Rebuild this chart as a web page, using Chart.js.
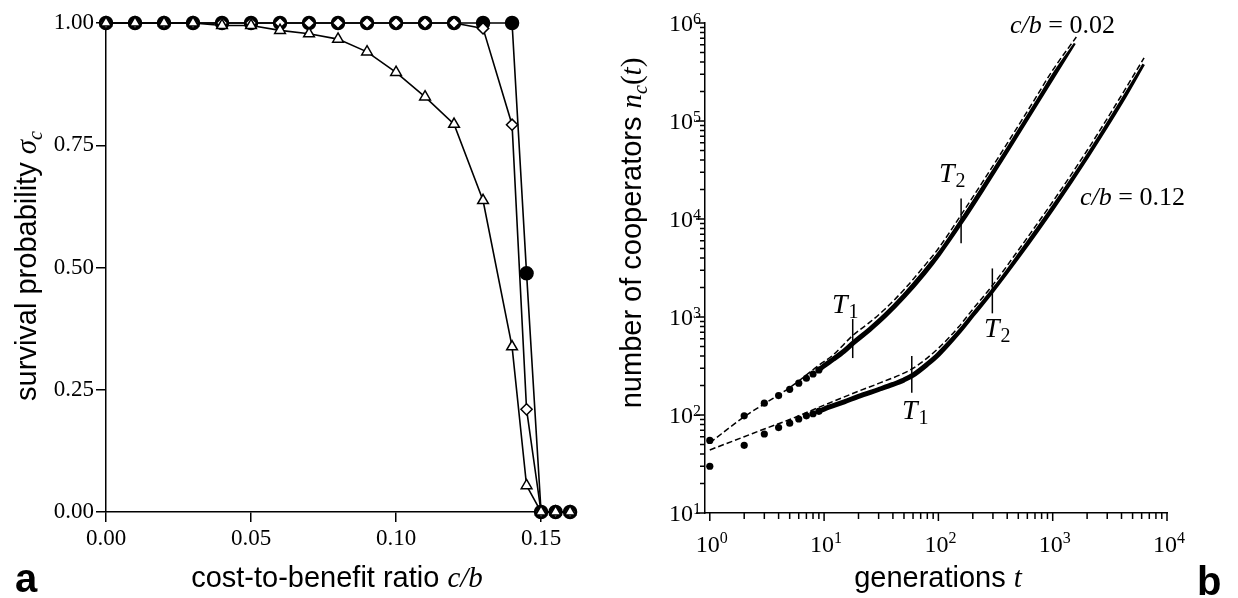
<!DOCTYPE html>
<html><head><meta charset="utf-8">
<script src="https://cdn.jsdelivr.net/npm/chart.js@4.4.1/dist/chart.umd.min.js"></script>
<style>
html,body{margin:0;padding:0;background:#fff;}
#wrap{position:relative;width:1238px;height:598px;overflow:hidden;background:#fff;}
#cA{position:absolute;left:0;top:0;}
#cB{position:absolute;left:600px;top:0;}
</style></head><body>
<div id="wrap">
<canvas id="cA" width="600" height="598"></canvas>
<canvas id="cB" width="638" height="598"></canvas>
</div>
<script>
// ===== Panel a data =====
const cbRatio = [0.00,0.01,0.02,0.03,0.04,0.05,0.06,0.07,0.08,0.09,0.10,0.11,0.12,0.13,0.14,0.145,0.15,0.155,0.16];
const survivalCircles   = [1,1,1,1,1,1,1,1,1,1,1,1,1,1,1,0.488,0,0,0];
const survivalDiamonds  = [1,1,1,1,1,1,1,1,1,1,1,1,1,0.989,0.792,0.21,0,0,0];
const survivalTriangles = [1,1,1,1,0.995,0.995,0.985,0.978,0.967,0.941,0.899,0.849,0.793,0.637,0.338,0.054,0,0,0];
const xTicksA = [0,0.05,0.10,0.15];
const yTicksA = [0,0.25,0.5,0.75,1];

// ===== Panel b data =====
const dotGenerations = [1,2,3,4,5,6,7,8,9];
const dots002 = [55,98,132,158,183,211,237,262,288];
const dots012 = [30,49,64,74.5,82.5,91,98,103,109];
const bandGen002 = [9,10,12,15,18,25,34,50,75,100,158,250,400,700,1000,1524];
const band002 = [288,318,370,450,545,745,1029,1634,2825,4350,9380,21400,51100,145500,284600,628000];
const bandGen012 = [9,10,15,20,30,40,50,60,80,100,150,200,297,500,1000,2000,4000,6130];
const band012 = [109,115,136,155,182,205,228,255,330,415,700,1060,1880,4210,13100,44100,160700,383000];
const fitGen002 = [1,2,3,5,9,12,18,25,34,50,75,100,158,250,400,700,1000,1610];
const fit002 = [52,96,130,190,322,410,655,880,1200,1900,3300,5000,11000,25000,59000,168000,330000,720000];
const fitGen012 = [1,2,3,5,10,20,30,60,100,150,200,297,500,1000,2000,4000,6300];
const fit012 = [44,60,72,90,126,175,210,300,480,790,1200,2100,4800,15000,50000,183000,440000];
const markGen  = [17.8,158,58.5,296.5];
const markLow  = [381,5640,169,1090];
const markHigh = [953,16200,401,3130];
const xDecadesB = [0,1,2,3,4];
const yDecadesB = [1,2,3,4,5,6];
const minorMultipliers = [2,3,4,5,6,7,8,9];

const SANS = '"Liberation Sans", Arial, sans-serif';
const SERIF = '"Liberation Serif", "Times New Roman", serif';

function pts(xs, ys){ return xs.map((x,i)=>({x:x, y:ys[i]})); }

function drawRich(ctx, x, y, parts, align, angle){
  ctx.save();
  ctx.translate(x, y);
  if (angle) ctx.rotate(angle);
  ctx.fillStyle = '#000';
  ctx.textBaseline = 'alphabetic';
  ctx.textAlign = 'left';
  let total = 0;
  parts.forEach(p=>{ ctx.font = p.f; p.w = ctx.measureText(p.t).width; total += p.w + (p.dx||0); });
  let cx = align === 'center' ? -total/2 : (align === 'right' ? -total : 0);
  parts.forEach(p=>{ ctx.font = p.f; cx += (p.dx||0); ctx.fillText(p.t, cx, p.dy||0); cx += p.w; });
  ctx.restore();
}

// ===== Panel a =====
const panelAText = {
  id:'panelAText',
  afterDraw(chart){
    const ctx = chart.ctx;
    drawRich(ctx, 36, 266, [
      {t:'survival probability ', f:'29px '+SANS},
      {t:'σ', f:'italic 29px '+SERIF},
      {t:'c', f:'italic 20px '+SERIF, dy:6}
    ], 'center', -Math.PI/2);
    drawRich(ctx, 337, 587, [
      {t:'cost-to-benefit ratio ', f:'29px '+SANS},
      {t:'c/b', f:'italic 29px '+SERIF}
    ], 'center');
    drawRich(ctx, 15, 592, [{t:'a', f:'bold 40px '+SANS}], 'left');
  }
};

const lineStyle = {borderColor:'#000', borderWidth:1.6, pointBorderColor:'#000', pointBorderWidth:1.5, clip:false, tension:0};

new Chart(document.getElementById('cA'), {
  type:'line',
  data:{datasets:[
    Object.assign({label:'triangles', data:pts(cbRatio, survivalTriangles), pointStyle:'triangle', pointRadius:6.2, pointBackgroundColor:'#fff', order:1}, lineStyle),
    Object.assign({label:'diamonds', data:pts(cbRatio, survivalDiamonds), pointStyle:'rectRot', pointRadius:5.6, pointBackgroundColor:'#fff', order:2}, lineStyle),
    Object.assign({label:'circles', data:pts(cbRatio, survivalCircles), pointStyle:'circle', pointRadius:6.5, pointBackgroundColor:'#000', order:3}, lineStyle)
  ]},
  options:{
    responsive:false, animation:false, devicePixelRatio:1,
    layout:{padding:{top:23, right:25, left:0, bottom:0}},
    plugins:{legend:{display:false}, tooltip:{enabled:false}},
    scales:{
      x:{type:'linear', min:0, max:0.1617,
        afterBuildTicks:s=>{ s.ticks = xTicksA.map(v=>({value:v})); },
        afterFit:s=>{ s.height = 86; },
        grid:{display:true, drawOnChartArea:false, drawTicks:true, tickLength:10, color:'#000', lineWidth:1.5},
        border:{display:true, color:'#000', width:1.5},
        ticks:{font:{family:'Liberation Serif', size:23}, color:'#000', padding:3, maxRotation:0, autoSkip:false, callback:v=>Number(v).toFixed(2)}
      },
      y:{type:'linear', min:0, max:1,
        afterBuildTicks:s=>{ s.ticks = yTicksA.map(v=>({value:v})); },
        afterFit:s=>{ s.width = 106; },
        grid:{display:true, drawOnChartArea:false, drawTicks:true, tickLength:10, color:'#000', lineWidth:1.5},
        border:{display:true, color:'#000', width:1.5},
        ticks:{font:{family:'Liberation Serif', size:23}, color:'#000', padding:2, autoSkip:false, callback:v=>Number(v).toFixed(2)}
      }
    }
  },
  plugins:[panelAText]
});

// ===== Panel b =====
const panelBText = {
  id:'panelBText',
  afterDraw(chart){
    const ctx = chart.ctx, xs = chart.scales.x, ys = chart.scales.y, a = chart.chartArea;
    ctx.save();
    ctx.strokeStyle = '#000'; ctx.lineWidth = 1.5;
    ctx.beginPath();
    yDecadesB.forEach(e=>{
      const base = Math.pow(10, e);
      let py = ys.getPixelForValue(base);
      ctx.moveTo(a.left-9, py); ctx.lineTo(a.left, py);
      if (e < yDecadesB[yDecadesB.length-1]) minorMultipliers.forEach(m=>{
        py = ys.getPixelForValue(m*base);
        ctx.moveTo(a.left-5, py); ctx.lineTo(a.left, py);
      });
    });
    xDecadesB.forEach(e=>{
      const base = Math.pow(10, e);
      let px = xs.getPixelForValue(base);
      ctx.moveTo(px, a.bottom); ctx.lineTo(px, a.bottom+8);
      if (e < xDecadesB[xDecadesB.length-1]) minorMultipliers.forEach(m=>{
        px = xs.getPixelForValue(m*base);
        ctx.moveTo(px, a.bottom); ctx.lineTo(px, a.bottom+6);
      });
    });
    ctx.stroke();
    ctx.restore();
    // tick labels
    yDecadesB.forEach(e=>{
      const py = ys.getPixelForValue(Math.pow(10,e));
      drawRich(ctx, a.left-4, py+8, [
        {t:'10', f:'24px '+SERIF},
        {t:String(e), f:'16px '+SERIF, dy:-7}
      ], 'right');
    });
    xDecadesB.forEach(e=>{
      const px = xs.getPixelForValue(Math.pow(10,e));
      drawRich(ctx, px+2, a.bottom+39, [
        {t:'10', f:'24px '+SERIF},
        {t:String(e), f:'16px '+SERIF, dy:-9}
      ], 'center');
    });
    // titles
    drawRich(ctx, 41, 233, [
      {t:'number of cooperators ', f:'29px '+SANS},
      {t:'n', f:'italic 29px '+SERIF},
      {t:'c', f:'italic 20px '+SERIF, dy:6},
      {t:'(', f:'29px '+SERIF},
      {t:'t', f:'italic 29px '+SERIF},
      {t:')', f:'29px '+SERIF}
    ], 'center', -Math.PI/2);
    drawRich(ctx, 338, 587, [
      {t:'generations ', f:'29px '+SANS},
      {t:'t', f:'italic 29px '+SERIF}
    ], 'center');
    // annotations
    drawRich(ctx, 410, 33, [{t:'c/b', f:'italic 26px '+SERIF},{t:' = 0.02', f:'26px '+SERIF}], 'left');
    drawRich(ctx, 480, 205, [{t:'c/b', f:'italic 26px '+SERIF},{t:' = 0.12', f:'26px '+SERIF}], 'left');
    const T = (x,y,sub)=>drawRich(ctx, x, y, [{t:'T', f:'italic 28px '+SERIF},{t:sub, f:'20px '+SERIF, dy:5, dx:1}], 'left');
    T(232, 313, '1');
    T(339, 182, '2');
    T(302, 419, '1');
    T(384, 337, '2');
    drawRich(ctx, 597, 595, [{t:'b', f:'bold 40px '+SANS}], 'left');
  }
};

const markSets = markGen.map((g,i)=>({
  data:[{x:g, y:markLow[i]},{x:g, y:markHigh[i]}],
  borderColor:'#000', borderWidth:1.5, pointRadius:0, order:0
}));

const fitStyle = {borderColor:'#000', borderWidth:1.5, borderDash:[6,3], pointRadius:0, cubicInterpolationMode:'monotone', order:1};
const fitUnder = {borderColor:'#fff', borderWidth:3, pointRadius:0, cubicInterpolationMode:'monotone', order:1.5};
const bandStyle = {borderColor:'#000', borderWidth:5, pointRadius:0, cubicInterpolationMode:'monotone', order:2};
const dotStyle = {showLine:false, pointRadius:3.6, pointBackgroundColor:'#000', pointBorderWidth:0, order:3};

new Chart(document.getElementById('cB'), {
  type:'line',
  data:{datasets:[
    Object.assign({label:'fit 0.02', data:pts(fitGen002, fit002)}, fitStyle),
    Object.assign({label:'fit 0.12', data:pts(fitGen012, fit012)}, fitStyle),
    Object.assign({label:'gap 0.02', data:pts(fitGen002, fit002).slice(6)}, fitUnder),
    Object.assign({label:'gap 0.12', data:pts(fitGen012, fit012).slice(7)}, fitUnder),
    Object.assign({label:'band 0.02', data:pts(bandGen002, band002)}, bandStyle),
    Object.assign({label:'band 0.12', data:pts(bandGen012, band012)}, bandStyle),
    Object.assign({label:'dots 0.02', data:pts(dotGenerations, dots002)}, dotStyle),
    Object.assign({label:'dots 0.12', data:pts(dotGenerations, dots012)}, dotStyle)
  ].concat(markSets)},
  options:{
    responsive:false, animation:false, devicePixelRatio:1,
    layout:{padding:{top:23, right:71, left:0, bottom:0}},
    plugins:{legend:{display:false}, tooltip:{enabled:false}},
    scales:{
      x:{type:'logarithmic', min:0.908, max:10000,
        afterFit:s=>{ s.height = 85; },
        grid:{display:false}, border:{display:true, color:'#000', width:1.5},
        ticks:{display:false}
      },
      y:{type:'logarithmic', min:10, max:1000000,
        afterFit:s=>{ s.width = 105; },
        grid:{display:false}, border:{display:true, color:'#000', width:1.5},
        ticks:{display:false}
      }
    }
  },
  plugins:[panelBText]
});
</script>
</body></html>
